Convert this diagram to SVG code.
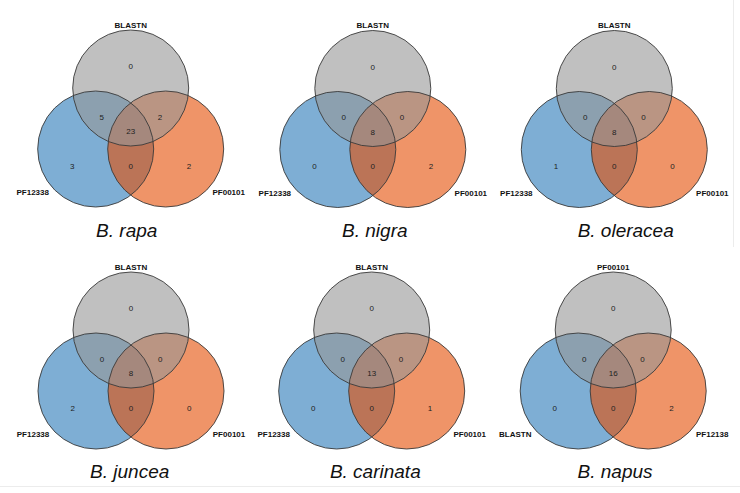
<svg xmlns="http://www.w3.org/2000/svg" xmlns:xlink="http://www.w3.org/1999/xlink" width="740" height="493" viewBox="0 0 740 493">
  <style>
    .set-a { fill: #2878b8; fill-opacity: 0.6; }
    .set-b { fill: #e44d03; fill-opacity: 0.6; }
    .set-c { fill: #969696; fill-opacity: 0.6; }
    .ring { fill: none; stroke: #3a3a3a; stroke-width: 0.9; }
    .count { font-family: "Liberation Sans", Arial, sans-serif; font-size: 8px; fill: #222; text-anchor: middle; }
    .setname { font-family: "Liberation Sans", Arial, sans-serif; font-size: 8px; font-weight: bold; fill: #111; text-anchor: middle; }
    .species { font-family: "Liberation Sans", Arial, sans-serif; font-size: 19px; font-style: italic; fill: #111; text-anchor: middle; }
    .frame { stroke: #ececec; stroke-width: 1; fill: none; }
  </style>
  <defs>
    <!-- three-set venn, origin at the centre of the top circle -->
    <g id="venn3">
      <circle class="set-a" cx="-35" cy="61" r="58"/>
      <circle class="set-b" cx="35" cy="61" r="58"/>
      <circle class="set-c" cx="0" cy="0" r="58"/>
      <circle class="ring" cx="-35" cy="61" r="58"/>
      <circle class="ring" cx="35" cy="61" r="58"/>
      <circle class="ring" cx="0" cy="0" r="58"/>
    </g>
  </defs>

  <rect width="740" height="493" fill="#ffffff"/>
  <line class="frame" x1="733.5" y1="0" x2="733.5" y2="247"/>
  <line class="frame" x1="0" y1="486.5" x2="740" y2="486.5"/>

  <g id="venn-rapa" transform="translate(130.7,88)">
    <use xlink:href="#venn3"/>
    <text class="setname" x="0" y="-60.5">BLASTN</text>
    <text class="setname" x="-98" y="107">PF12338</text>
    <text class="setname" x="98" y="107">PF00101</text>
    <text class="count" x="0" y="-19">0</text>
    <text class="count" x="-29" y="31.5">5</text>
    <text class="count" x="29.3" y="31.5">2</text>
    <text class="count" x="0" y="46">23</text>
    <text class="count" x="-58.4" y="80.5">3</text>
    <text class="count" x="0" y="80.5">0</text>
    <text class="count" x="58.3" y="80.5">2</text>
    <text class="species" x="-4" y="148.7">B. rapa</text>
  </g>

  <g id="venn-nigra" transform="translate(372.8,88.5)">
    <use xlink:href="#venn3"/>
    <text class="setname" x="0" y="-60.5">BLASTN</text>
    <text class="setname" x="-98" y="107">PF12338</text>
    <text class="setname" x="98" y="107">PF00101</text>
    <text class="count" x="0" y="-19">0</text>
    <text class="count" x="-29" y="31.5">0</text>
    <text class="count" x="29.3" y="31.5">0</text>
    <text class="count" x="0" y="46">8</text>
    <text class="count" x="-58.4" y="80.5">0</text>
    <text class="count" x="0" y="80.5">0</text>
    <text class="count" x="58.3" y="80.5">2</text>
    <text class="species" x="2" y="148.2">B. nigra</text>
  </g>

  <g id="venn-oleracea" transform="translate(614.3,88.5)">
    <use xlink:href="#venn3"/>
    <text class="setname" x="0" y="-60.5">BLASTN</text>
    <text class="setname" x="-98" y="107">PF12338</text>
    <text class="setname" x="98" y="107">PF00101</text>
    <text class="count" x="0" y="-19">0</text>
    <text class="count" x="-29" y="31.5">0</text>
    <text class="count" x="29.3" y="31.5">0</text>
    <text class="count" x="0" y="46">8</text>
    <text class="count" x="-58.4" y="80.5">1</text>
    <text class="count" x="0" y="80.5">0</text>
    <text class="count" x="58.3" y="80.5">0</text>
    <text class="species" x="11.4" y="148.2">B. oleracea</text>
  </g>

  <g id="venn-juncea" transform="translate(131,330)">
    <use xlink:href="#venn3"/>
    <text class="setname" x="0" y="-60.5">BLASTN</text>
    <text class="setname" x="-98" y="107">PF12338</text>
    <text class="setname" x="98" y="107">PF00101</text>
    <text class="count" x="0" y="-19">0</text>
    <text class="count" x="-29" y="31.5">0</text>
    <text class="count" x="29.3" y="31.5">0</text>
    <text class="count" x="0" y="46">8</text>
    <text class="count" x="-58.4" y="80.5">2</text>
    <text class="count" x="0" y="80.5">0</text>
    <text class="count" x="58.3" y="80.5">0</text>
    <text class="species" x="-1.3" y="147.7">B. juncea</text>
  </g>

  <g id="venn-carinata" transform="translate(371.7,330)">
    <use xlink:href="#venn3"/>
    <text class="setname" x="0" y="-60.5">BLASTN</text>
    <text class="setname" x="-98" y="107">PF12338</text>
    <text class="setname" x="98" y="107">PF00101</text>
    <text class="count" x="0" y="-19">0</text>
    <text class="count" x="-29" y="31.5">0</text>
    <text class="count" x="29.3" y="31.5">0</text>
    <text class="count" x="0" y="46">13</text>
    <text class="count" x="-58.4" y="80.5">0</text>
    <text class="count" x="0" y="80.5">0</text>
    <text class="count" x="58.3" y="80.5">1</text>
    <text class="species" x="3.6" y="147.7">B. carinata</text>
  </g>

  <g id="venn-napus" transform="translate(613.2,330)">
    <use xlink:href="#venn3"/>
    <text class="setname" x="0" y="-60.5">PF00101</text>
    <text class="setname" x="-98" y="107">BLASTN</text>
    <text class="setname" x="99" y="107">PF12138</text>
    <text class="count" x="0" y="-19">0</text>
    <text class="count" x="-29" y="31.5">0</text>
    <text class="count" x="29.3" y="31.5">0</text>
    <text class="count" x="0" y="46">16</text>
    <text class="count" x="-58.4" y="80.5">0</text>
    <text class="count" x="0" y="80.5">0</text>
    <text class="count" x="58.3" y="80.5">2</text>
    <text class="species" x="1.8" y="147.7">B. napus</text>
  </g>
</svg>
